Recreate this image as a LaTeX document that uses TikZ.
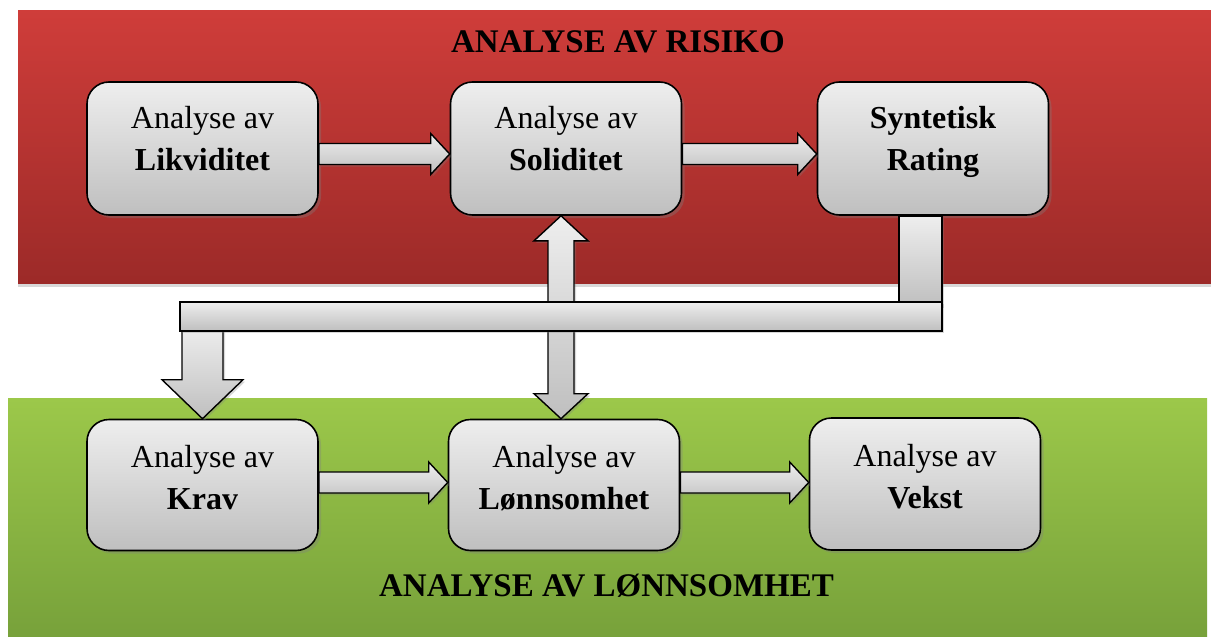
\documentclass[tikz,border=0pt]{standalone}
\usepackage{fontspec}
\setmainfont{Liberation Serif}
\usetikzlibrary{calc,shadows}

\definecolor{redtop}{HTML}{CF3D3A}
\definecolor{redbot}{HTML}{9C2A28}
\definecolor{greentop}{HTML}{9CC84A}
\definecolor{greenbot}{HTML}{76A03A}
\definecolor{boxtop}{HTML}{EEEEEE}
\definecolor{boxbot}{HTML}{BFBFBF}

% extra depth under the last line lifts the text block inside a box
\newcommand\lowpad[1]{\rule[-#1pt]{0pt}{#1pt}}

\tikzset{
  panel/.style={draw=none, drop shadow={opacity=0.3, shadow xshift=0pt, shadow yshift=-4pt}},
  stepbox/.style={draw=black, line width=1.6pt, rounded corners=22pt,
    top color=boxtop, bottom color=boxbot, minimum width=231pt,
    align=center, font=\fontsize{32}{42}\selectfont,
    drop shadow={opacity=0.35, shadow xshift=3pt, shadow yshift=-3pt}},
  blockarrow/.style={draw=black, line width=1.4pt, line join=miter,
    top color=boxtop, bottom color=boxbot,
    drop shadow={opacity=0.3, shadow xshift=2pt, shadow yshift=-2pt}},
  paneltitle/.style={font=\fontsize{33}{42}\selectfont\bfseries, anchor=base}
}

% horizontal block arrow from #1 to #2, shifted down by #3
\newcommand\rightblock[3]{%
  \draw[blockarrow] let \p1=($(#1.east)+(0,#3)$), \p2=(#2.west) in
    (\x1,\y1+10.5pt) -- (\x2-19pt,\y1+10.5pt) -- (\x2-19pt,\y1+20.5pt) --
    (\x2,\y1) -- (\x2-19pt,\y1-20.5pt) -- (\x2-19pt,\y1-10.5pt) --
    (\x1,\y1-10.5pt) -- cycle;}

\begin{document}
\begin{tikzpicture}[x=1pt,y=-1pt]
\useasboundingbox (0,0) rectangle (1211,637);
\fill[white] (0,0) rectangle (1211,637);

% background panels
\path[panel, top color=redtop, bottom color=redbot] (18,10) rectangle (1214,283);
\path[panel, top color=greentop, bottom color=greenbot] (8,398) rectangle (1207,645);

% panel titles
\node[paneltitle] (risk) at (618,52) {ANALYSE AV RISIKO};
\node[paneltitle] (profit) at (606.5,596) {ANALYSE AV LØNNSOMHET};

% steps
\node[stepbox, minimum height=133pt] (lik) at (202.5,148.5) {Analyse av\\\textbf{Likviditet}\lowpad{20}};
\node[stepbox, minimum height=133pt] (sol) at (566,148.5) {Analyse av\\\textbf{Soliditet}\lowpad{20}};
\node[stepbox, minimum height=133pt] (syn) at (933,148.5) {\textbf{Syntetisk}\\\textbf{Rating}\lowpad{20}};
\node[stepbox, minimum height=131pt] (krav) at (202.5,485) {Analyse av\\\textbf{Krav}\lowpad{15}};
\node[stepbox, minimum height=131pt] (lonn) at (564,485) {Analyse av\\\textbf{Lønnsomhet}\lowpad{15}};
\node[stepbox, minimum height=132pt] (vekst) at (925,484) {Analyse av\\\textbf{Vekst}\lowpad{15}};

% flows along each row
\rightblock{lik}{sol}{5.5}
\rightblock{sol}{syn}{5.5}
\rightblock{krav}{lonn}{-2.5}
\rightblock{lonn}{vekst}{-2.5}

% two-way link between Soliditet and Lønnsomhet
\draw[blockarrow] let \p1=(sol.south), \p2=(lonn.north), \n1={\x1-5pt} in
  (\n1,\y1) -- (\n1+27pt,\y1-25pt) -- (\n1+13pt,\y1-25pt) -- (\n1+13pt,\y2+25pt) --
  (\n1+27pt,\y2+25pt) -- (\n1,\y2) -- (\n1-27pt,\y2+25pt) -- (\n1-13pt,\y2+25pt) --
  (\n1-13pt,\y1-25pt) -- (\n1-27pt,\y1-25pt) -- cycle;

% Syntetisk Rating feeds Krav through the long bar
\draw[blockarrow] let \p1=(syn.south), \p2=(krav.north) in
  (\x2-20.5pt,\y1-110pt) -- (\x2+20.5pt,\y1-110pt) -- (\x2+20.5pt,\y2+39pt) --
  (\x2+40.5pt,\y2+39pt) -- (\x2,\y2) -- (\x2-40.5pt,\y2+39pt) --
  (\x2-20.5pt,\y2+39pt) -- cycle;
\draw[blockarrow] let \p1=(syn.south) in
  (\x1-34pt,\y1) rectangle (\x1+9pt,\y1-90pt);
\draw[blockarrow] let \p1=(syn.south), \p2=(krav.north) in
  (\x2-22.5pt,\y1-86pt) rectangle (\x1+9pt,\y1-115pt);
\end{tikzpicture}
\end{document}
